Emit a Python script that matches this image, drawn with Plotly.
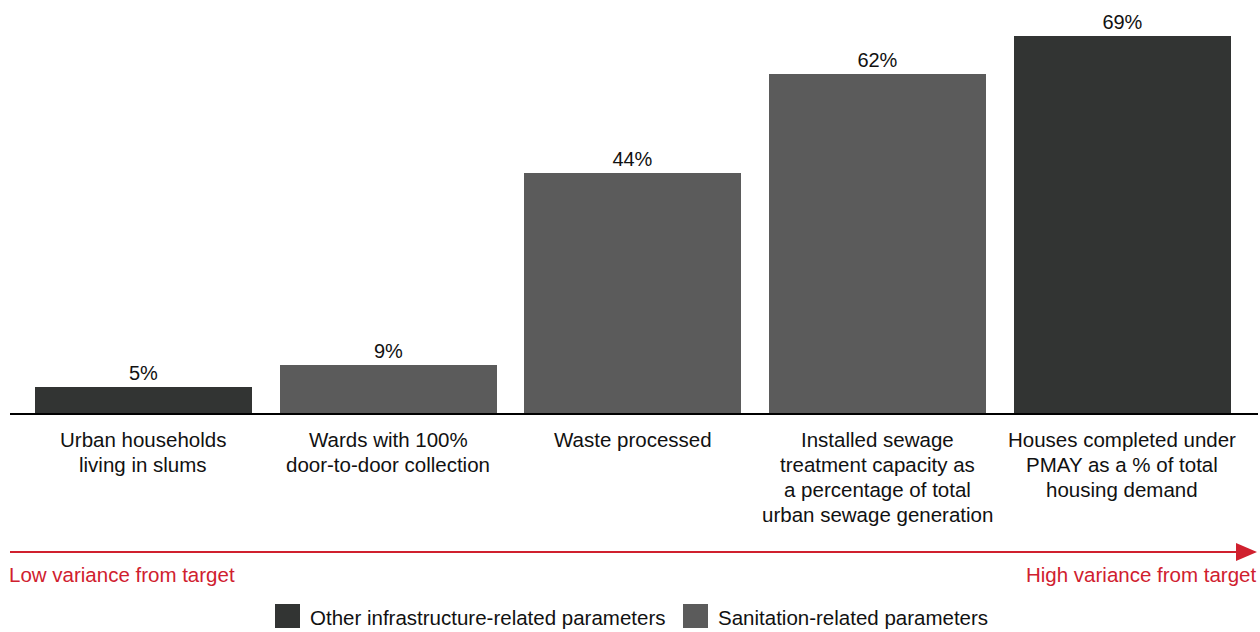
import plotly.graph_objects as go

categories = [
    "Urban households<br>living in slums",
    "Wards with 100%<br>door-to-door collection",
    "Waste processed",
    "Installed sewage<br>treatment capacity as<br>a percentage of total<br>urban sewage generation",
    "Houses completed under<br>PMAY as a % of total<br>housing demand",
]
values = [5, 9, 44, 62, 69]
groups = ["Other infrastructure-related parameters", "Sanitation-related parameters",
          "Sanitation-related parameters", "Sanitation-related parameters",
          "Other infrastructure-related parameters"]
group_colors = {"Other infrastructure-related parameters": "#323433",
                "Sanitation-related parameters": "#5b5b5b"}
legend_order = ["Other infrastructure-related parameters", "Sanitation-related parameters"]

FONT = "Arial, Liberation Sans, sans-serif"
RED = "#d0202e"
FS = 20.5

W, H = 1260, 632
PLOT_L, PLOT_R, PLOT_T, PLOT_B = 10, 1258, 10, 414  # pixels

def px_x(p):
    return (p - PLOT_L) / (PLOT_R - PLOT_L)

def px_y(p):
    return (PLOT_B - p) / (PLOT_B - PLOT_T)

xs = list(range(len(categories)))
fig = go.Figure()
fig.add_trace(go.Bar(
    x=xs, y=values,
    marker=dict(color=[group_colors[g] for g in groups], line=dict(width=0)),
    width=0.887,
    text=[f"{v}%" for v in values],
    textposition="outside",
    textfont=dict(size=20, color="#111111", family=FONT),
    cliponaxis=False,
    showlegend=False,
    hoverinfo="skip",
))

annotations = []
for i, c in enumerate(categories):
    for j, line in enumerate(c.split("<br>")):
        annotations.append(dict(
            x=i, y=px_y(439 + 25 * j), xref="x", yref="paper", text=line, showarrow=False,
            yanchor="middle", xanchor="center", align="center",
            font=dict(size=FS, color="#111111", family=FONT)))

shapes = []
# baseline
shapes.append(dict(type="line", xref="paper", yref="paper", x0=0, x1=1,
                   y0=0, y1=0, line=dict(color="#000000", width=2), layer="above"))
# red arrow
ay = px_y(552)
shapes.append(dict(type="line", xref="paper", yref="paper", x0=px_x(10), x1=px_x(1240),
                   y0=ay, y1=ay, line=dict(color=RED, width=2)))
shapes.append(dict(type="path", xref="paper", yref="paper",
                   path=f"M {px_x(1236)} {px_y(543)} L {px_x(1257)} {ay} L {px_x(1236)} {px_y(561)} Z",
                   fillcolor=RED, line=dict(color=RED, width=0)))
annotations.append(dict(x=px_x(7), y=px_y(574), xref="paper", yref="paper",
                        text="Low variance from target", showarrow=False,
                        xanchor="left", yanchor="middle",
                        font=dict(size=FS, color=RED, family=FONT)))
annotations.append(dict(x=px_x(1258), y=px_y(574), xref="paper", yref="paper",
                        text="High variance from target", showarrow=False,
                        xanchor="right", yanchor="middle",
                        font=dict(size=FS, color=RED, family=FONT)))

# manual legend
legend_x = [275, 683]
for lx, g in zip(legend_x, legend_order):
    shapes.append(dict(type="rect", xref="paper", yref="paper",
                       x0=px_x(lx), x1=px_x(lx + 25), y0=px_y(604), y1=px_y(628),
                       fillcolor=group_colors[g], line=dict(width=0)))
    annotations.append(dict(x=px_x(lx + 33), y=px_y(617), xref="paper", yref="paper",
                            text=g, showarrow=False, xanchor="left", yanchor="middle",
                            font=dict(size=FS, color="#111111", family=FONT)))

fig.update_layout(
    width=W, height=H,
    margin=dict(l=PLOT_L, r=W - PLOT_R, t=PLOT_T, b=H - PLOT_B),
    paper_bgcolor="white", plot_bgcolor="white",
    xaxis=dict(range=[-0.545, 4.555], showticklabels=False, showgrid=False,
               zeroline=False, showline=False, fixedrange=True),
    yaxis=dict(range=[0, 73.75], visible=False, showgrid=False, zeroline=False,
               fixedrange=True),
    shapes=shapes,
    annotations=annotations,
    bargap=0,
    font=dict(family=FONT),
)

fig.write_html(
    "out.html",
    config={"displayModeBar": False},
    post_script="document.body.style.margin='0';document.body.style.overflow='hidden';",
)
